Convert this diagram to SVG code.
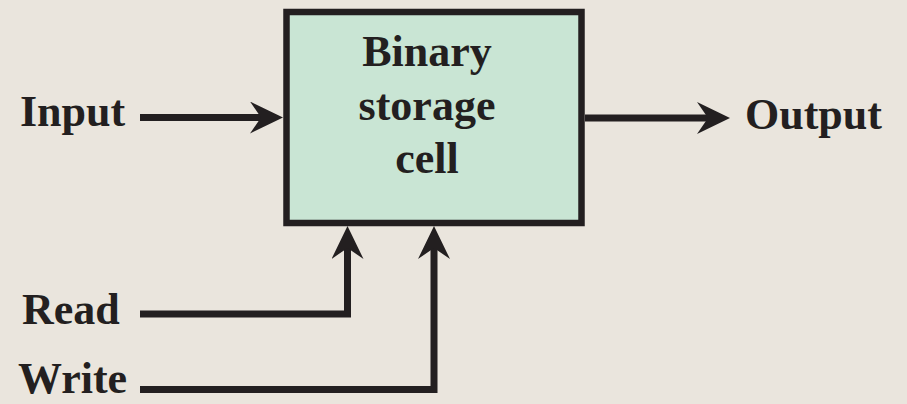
<svg xmlns="http://www.w3.org/2000/svg" width="907" height="404" viewBox="0 0 907 404">
  <style>
    .lbl { font-family: "Liberation Serif", "Times New Roman", serif; font-weight: bold; font-size: 44px; fill: #231f20; }
    .wire { fill: none; stroke: #231f20; stroke-width: 7; stroke-linejoin: miter; stroke-linecap: butt; }
    .cell { fill: #c9e5d4; stroke: #231f20; stroke-width: 6.5; }
  </style>
  <defs>
    <marker id="arrow" markerUnits="userSpaceOnUse" viewBox="0 0 34 32" markerWidth="34" markerHeight="32" refX="22" refY="16" orient="auto">
      <path d="M0,0 L33,16 L0,32 L11,16 Z" fill="#231f20"/>
    </marker>
  </defs>
  <rect width="907" height="404" fill="#eae5dd"/>

  <g id="cell">
    <rect class="cell" x="286.5" y="12" width="295" height="211"/>
    <text class="lbl" x="427" y="66" text-anchor="middle">Binary</text>
    <text class="lbl" x="427" y="120" text-anchor="middle">storage</text>
    <text class="lbl" x="427" y="173" text-anchor="middle">cell</text>
  </g>
  <g id="input">
    <text class="lbl" x="20" y="126">Input</text>
  </g>
  <g id="output">
    <text class="lbl" x="745" y="129">Output</text>
  </g>
  <g id="read">
    <text class="lbl" x="22" y="324">Read</text>
  </g>
  <g id="write">
    <text class="lbl" x="18" y="393">Write</text>
  </g>

  <g id="connectors">
    <path class="wire" d="M140,117.5 H272" marker-end="url(#arrow)"/>
    <path class="wire" d="M585,118 H719" marker-end="url(#arrow)"/>
    <path class="wire" d="M140,314 H347.5 V237" marker-end="url(#arrow)"/>
    <path class="wire" d="M140,389.5 H434 V237" marker-end="url(#arrow)"/>
  </g>
</svg>
